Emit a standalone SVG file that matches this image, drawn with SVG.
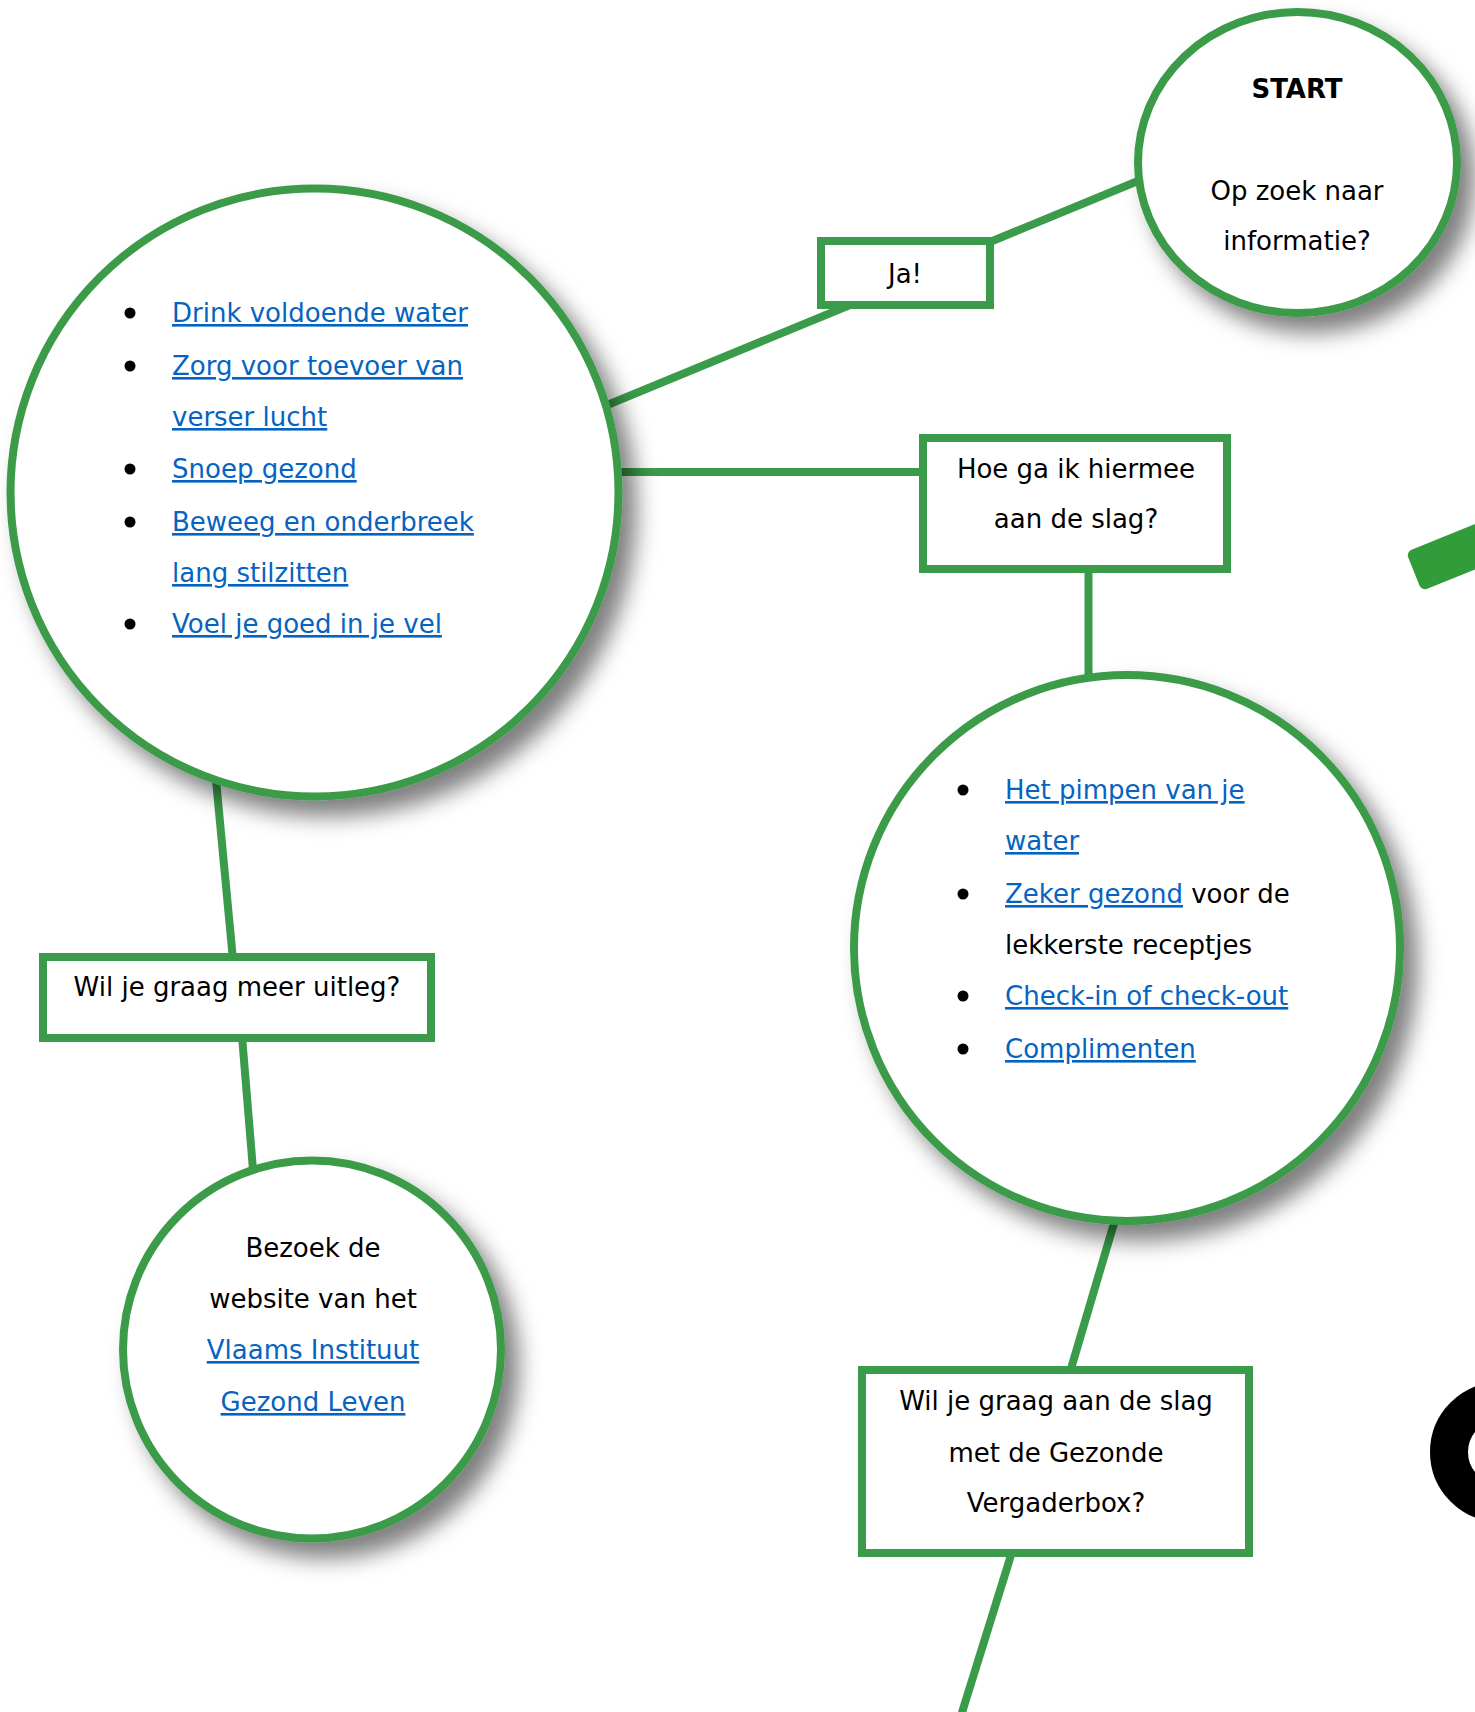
<svg xmlns="http://www.w3.org/2000/svg" width="1475" height="1712" viewBox="0 0 1475 1712">
<defs>
<filter id="sh" x="-20%" y="-20%" width="150%" height="150%">
<feDropShadow dx="14" dy="16" stdDeviation="11" flood-color="#000" flood-opacity="0.5"/>
</filter>
<style>
.node{fill:#fff;stroke:#3a9b4a;stroke-width:8}
.conn{stroke:#3a9b4a;stroke-width:8;fill:none}
text{font-family:"DejaVu Sans",Verdana,sans-serif;font-size:26px;fill:#000}
.c{text-anchor:middle}
.lnk{fill:#0563c1;text-decoration:underline;text-decoration-thickness:2.5px;text-underline-offset:4px}
.b{font-weight:bold}
.dot{fill:#000}
</style>
</defs>
<rect width="1475" height="1712" fill="#fff"/>
<g id="connectors">
<line class="conn" x1="990" y1="242" x2="1150" y2="176"/>
<line class="conn" x1="850" y1="305" x2="600" y2="408"/>
<line class="conn" x1="610" y1="472" x2="925" y2="472"/>
<line class="conn" x1="1088.5" y1="568" x2="1088.5" y2="680"/>
<line class="conn" x1="216" y1="780" x2="233" y2="960"/>
<line class="conn" x1="242" y1="1036" x2="253" y2="1170"/>
<line class="conn" x1="1115" y1="1220" x2="1070" y2="1372"/>
<line class="conn" x1="1012" y1="1552" x2="955" y2="1735"/>
</g>
<g id="deco-bar"><rect x="0" y="0" width="200" height="42" rx="6" fill="#339c3a" transform="translate(1406,552) rotate(-22)"/></g>
<g id="deco-ring"><circle cx="1500" cy="1452" r="51" fill="none" stroke="#000" stroke-width="38"/></g>
<g id="start">
<ellipse class="node" cx="1297.5" cy="162.5" rx="159.5" ry="150.5" filter="url(#sh)"/>
<text class="c b" x="1297" y="98" font-size="23">START</text>
<text class="c" x="1297" y="200">Op zoek naar</text>
<text class="c" x="1297" y="250">informatie?</text>
</g>
<g id="ja">
<rect class="node" x="821" y="241" width="169" height="64"/>
<text class="c" x="905" y="283">Ja!</text>
</g>
<g id="tips">
<circle class="node" cx="314.5" cy="492.5" r="304" filter="url(#sh)"/>
<circle class="dot" cx="130" cy="313" r="5.5"/>
<text class="lnk" x="172" y="322">Drink voldoende water</text>
<circle class="dot" cx="130" cy="366" r="5.5"/>
<text class="lnk" x="172" y="375">Zorg voor toevoer van</text>
<text class="lnk" x="172" y="426">verser lucht</text>
<circle class="dot" cx="130" cy="469" r="5.5"/>
<text class="lnk" x="172" y="478">Snoep gezond</text>
<circle class="dot" cx="130" cy="522" r="5.5"/>
<text class="lnk" x="172" y="531">Beweeg en onderbreek</text>
<text class="lnk" x="172" y="582">lang stilzitten</text>
<circle class="dot" cx="130" cy="624" r="5.5"/>
<text class="lnk" x="172" y="633">Voel je goed in je vel</text>
</g>
<g id="hoe">
<rect class="node" x="923" y="438" width="304" height="131"/>
<text class="c" x="1076" y="478">Hoe ga ik hiermee</text>
<text class="c" x="1076" y="528">aan de slag?</text>
</g>
<g id="aanpak">
<circle class="node" cx="1127" cy="948" r="273" filter="url(#sh)"/>
<circle class="dot" cx="963" cy="790" r="5.5"/>
<text class="lnk" x="1005" y="799">Het pimpen van je</text>
<text class="lnk" x="1005" y="850">water</text>
<circle class="dot" cx="963" cy="894" r="5.5"/>
<text x="1005" y="903"><tspan class="lnk">Zeker gezond</tspan> voor de</text>
<text x="1005" y="954">lekkerste receptjes</text>
<circle class="dot" cx="963" cy="996" r="5.5"/>
<text class="lnk" x="1005" y="1005">Check-in of check-out</text>
<circle class="dot" cx="963" cy="1049" r="5.5"/>
<text class="lnk" x="1005" y="1058">Complimenten</text>
</g>
<g id="uitleg">
<rect class="node" x="43" y="957" width="388" height="81"/>
<text class="c" x="237" y="996">Wil je graag meer uitleg?</text>
</g>
<g id="website">
<circle class="node" cx="312" cy="1349.5" r="189" filter="url(#sh)"/>
<text class="c" x="313" y="1257">Bezoek de</text>
<text class="c" x="313" y="1308">website van het</text>
<text class="c lnk" x="313" y="1359">Vlaams Instituut</text>
<text class="c lnk" x="313" y="1411">Gezond Leven</text>
</g>
<g id="vergaderbox">
<rect class="node" x="862" y="1370" width="387" height="183"/>
<text class="c" x="1056" y="1410">Wil je graag aan de slag</text>
<text class="c" x="1056" y="1462">met de Gezonde</text>
<text class="c" x="1056" y="1512">Vergaderbox?</text>
</g>
</svg>
